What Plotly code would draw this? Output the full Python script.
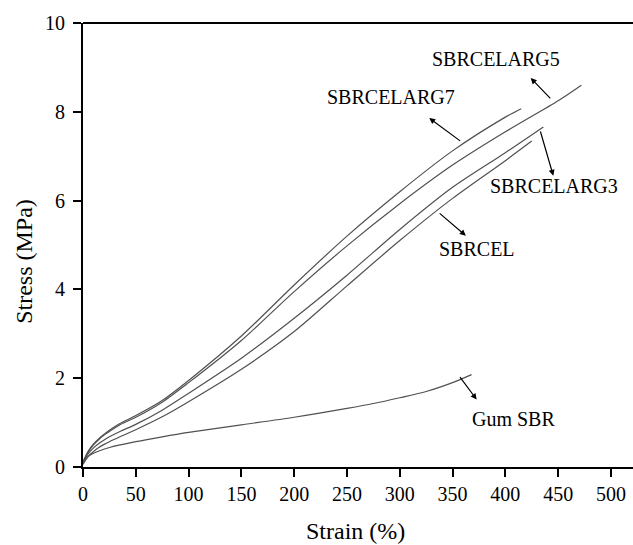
import plotly.graph_objects as go

# Strain (%) and Stress (MPa) readings for each compound
arg7_strain = [0, 5, 10, 15, 20, 25, 35, 50, 75, 100, 150, 200, 250, 300, 350, 400, 415]
arg7_stress = [0.12, 0.36, 0.52, 0.64, 0.74, 0.83, 0.98, 1.16, 1.5, 1.95, 2.95, 4.1, 5.2, 6.2, 7.12, 7.88, 8.07]

arg5_strain = [0, 5, 10, 15, 20, 25, 35, 50, 75, 100, 150, 200, 250, 300, 350, 400, 450, 472]
arg5_stress = [0.1, 0.34, 0.5, 0.62, 0.72, 0.8, 0.95, 1.12, 1.46, 1.9, 2.85, 3.95, 4.98, 5.93, 6.8, 7.55, 8.25, 8.6]

arg3_strain = [0, 5, 10, 15, 20, 25, 35, 50, 75, 100, 150, 200, 250, 300, 350, 400, 436]
arg3_stress = [0.1, 0.3, 0.43, 0.53, 0.61, 0.68, 0.8, 0.96, 1.28, 1.66, 2.45, 3.35, 4.32, 5.35, 6.3, 7.08, 7.66]

cel_strain = [0, 5, 10, 15, 20, 25, 35, 50, 75, 100, 150, 200, 250, 300, 350, 400, 425]
cel_stress = [0.06, 0.24, 0.35, 0.44, 0.51, 0.57, 0.68, 0.84, 1.13, 1.47, 2.2, 3.05, 4.08, 5.1, 6.05, 6.9, 7.34]

gum_strain = [0, 5, 10, 15, 25, 50, 75, 100, 150, 200, 250, 275, 300, 325, 350, 368]
gum_stress = [0.1, 0.24, 0.31, 0.36, 0.44, 0.57, 0.68, 0.78, 0.95, 1.12, 1.32, 1.43, 1.56, 1.7, 1.9, 2.08]

x_ticks = [0, 50, 100, 150, 200, 250, 300, 350, 400, 450, 500]
y_ticks = [0, 2, 4, 6, 8, 10]

# label text, label pos, arrow tail (on curve), arrow head
labels = [
    ("SBRCELARG5", 391, 9.18, 444, 8.27, 424, 8.76),
    ("SBRCELARG7", 291.6, 8.34, 358.6, 7.32, 327.9, 7.86),
    ("SBRCELARG3", 446, 6.32, 432.8, 7.59, 445.4, 6.56),
    ("SBRCEL", 372.8, 4.92, 336.4, 5.74, 362.6, 5.21),
    ("Gum SBR", 407.5, 1.08, 356, 2.06, 372.8, 1.52),
]

FONT = "Liberation Serif, Times New Roman, serif"
LINE = dict(color="#505050", width=1.2)

fig = go.Figure()
for xs, ys in [(arg7_strain, arg7_stress), (arg5_strain, arg5_stress),
               (arg3_strain, arg3_stress), (cel_strain, cel_stress),
               (gum_strain, gum_stress)]:
    fig.add_trace(go.Scatter(x=xs, y=ys, mode="lines", line=dict(shape="spline", smoothing=0.8, **LINE),
                             showlegend=False, hoverinfo="skip"))

ann = []
for text, lx, ly, tx, ty, hx, hy in labels:
    ann.append(dict(x=hx, y=hy, ax=tx, ay=ty, xref="x", yref="y", axref="x", ayref="y",
                    text="", showarrow=True, arrowhead=2, arrowsize=1, arrowwidth=1.2,
                    arrowcolor="black", standoff=0, startstandoff=0))
    ann.append(dict(x=lx, y=ly, xref="x", yref="y", text=text, showarrow=False,
                    font=dict(family=FONT, size=20, color="black"), xanchor="center", yanchor="middle"))

ann.append(dict(x=0.4955, y=0, xref="paper", yref="paper", text="Strain (%)", showarrow=False,
                yshift=-64, xanchor="center", yanchor="middle",
                font=dict(family=FONT, size=24, color="black")))
ann.append(dict(x=0, y=0.462, xref="paper", yref="paper", text="Stress (MPa)", showarrow=False,
                xshift=-59, xanchor="center", yanchor="middle", textangle=-90,
                font=dict(family=FONT, size=24, color="black")))

fig.update_layout(
    width=633, height=545,
    margin=dict(l=83, r=0, t=23, b=77.5),
    paper_bgcolor="white", plot_bgcolor="white",
    annotations=ann,
    shapes=[dict(type="line", xref="paper", yref="paper", x0=0, x1=1, y0=1, y1=1,
                 line=dict(color="black", width=2))],
    xaxis=dict(range=[0, 520.9], tickvals=x_ticks, ticks="outside", ticklen=8, tickwidth=2,
               tickcolor="black", showline=True, linecolor="black", linewidth=2,
               showgrid=False, zeroline=False,
               tickfont=dict(family=FONT, size=20, color="black")),
    yaxis=dict(range=[0, 10], tickvals=y_ticks, ticks="outside", ticklen=8, tickwidth=2,
               tickcolor="black", showline=True, linecolor="black", linewidth=2,
               showgrid=False, zeroline=False, ticklabelstandoff=4,
               tickfont=dict(family=FONT, size=20, color="black")),
)

fig.write_html("out.html")
